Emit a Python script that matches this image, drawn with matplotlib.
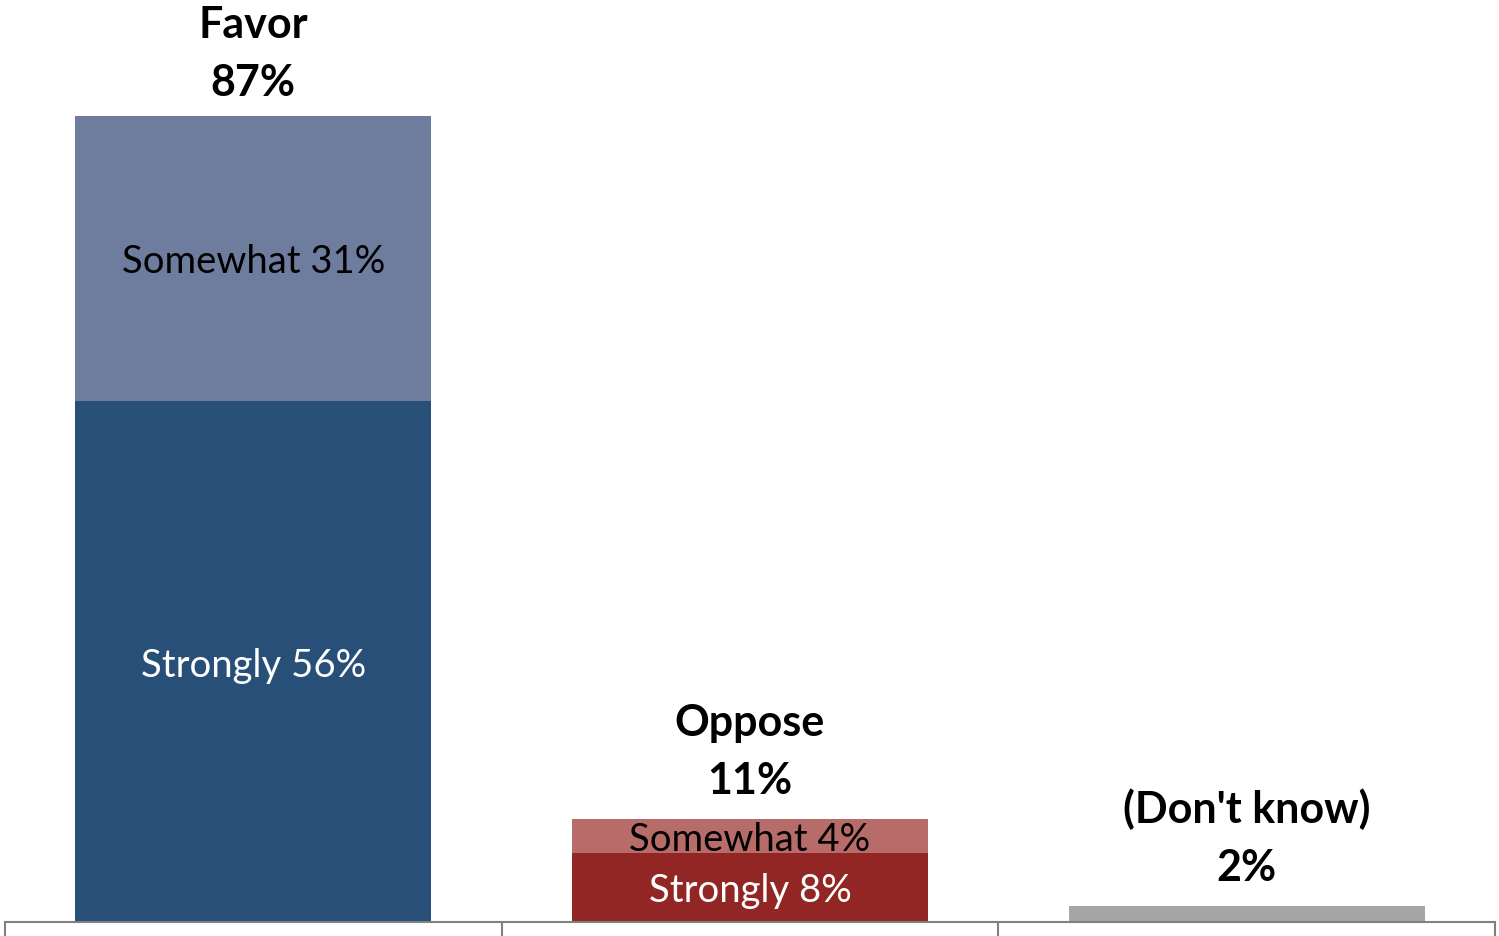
import matplotlib
matplotlib.use("Agg")
import matplotlib.pyplot as plt
from matplotlib import transforms

categories = ["Favor", "Oppose", "(Don't know)"]
totals_labels = ["87%", "11%", "2%"]
strongly = [56.2, 7.45, 1.73]
somewhat = [31.0, 3.67, 0.0]
strongly_labels = ["Strongly 56%", "Strongly 8%", None]
somewhat_labels = ["Somewhat 31%", "Somewhat 4%", None]

strong_colors = ["#284F77", "#922624", "#A6A6A8"]
some_colors = ["#6E7C9E", "#B86C6A", "#A6A6A8"]
strong_text = ["white", "white", "black"]
some_text = ["black", "black", "black"]

W, H = 1499, 936
fig = plt.figure(figsize=(W / 100, H / 100), dpi=100)
ax = fig.add_axes([5 / W, 14 / H, 1490 / W, (922 - 116) / H])
ax.set_xlim(-0.5, 2.5)
ax.set_ylim(0, 87)

font = "Lato"
x = list(range(len(categories)))
bw = 0.717
ax.bar(x, strongly, width=bw, color=strong_colors, zorder=2)
ax.bar(x, somewhat, width=bw, bottom=strongly, color=some_colors, zorder=2)

px = 72 / 100  # points per pixel
seg = transforms.offset_copy(ax.transData, fig=fig, x=0, y=-4 * px, units="points")
fig.canvas.draw()
for i in x:
    if strongly_labels[i]:
        ax.text(i, strongly[i] / 2, strongly_labels[i], ha="center", va="center",
                fontsize=27.5, color=strong_text[i], family=font, zorder=3, transform=seg)
    if somewhat_labels[i]:
        ax.text(i, strongly[i] + somewhat[i] / 2, somewhat_labels[i], ha="center", va="center",
                fontsize=27.5, color=some_text[i], family=font, zorder=3, transform=seg)
    top = strongly[i] + somewhat[i]
    # keep the category label inside the figure
    top_px_from_top = H - ax.transData.transform((i, top))[1]
    shift = max(0, 38 - (top_px_from_top - 83))
    off1 = transforms.offset_copy(ax.transData, fig=fig, x=0, y=(25 - shift) * px, units="points")
    off2 = transforms.offset_copy(ax.transData, fig=fig, x=0, y=(83 - shift) * px, units="points")
    ax.text(i, top, totals_labels[i], ha="center", va="baseline", fontsize=31,
            fontweight="bold", family=font, transform=off1, clip_on=False)
    ax.text(i, top, categories[i], ha="center", va="baseline", fontsize=31,
            fontweight="bold", family=font, transform=off2, clip_on=False)

for s in ["top", "left", "right"]:
    ax.spines[s].set_visible(False)
ax.spines["bottom"].set_color("#808080")
ax.spines["bottom"].set_linewidth(1.5)
ax.set_yticks([])
ax.set_xticks([-0.5, 0.5, 1.5, 2.5])
ax.set_xticklabels([])
ax.tick_params(axis="x", direction="out", length=10, width=1.5, color="#808080")

fig.savefig("out.png", dpi=100)
